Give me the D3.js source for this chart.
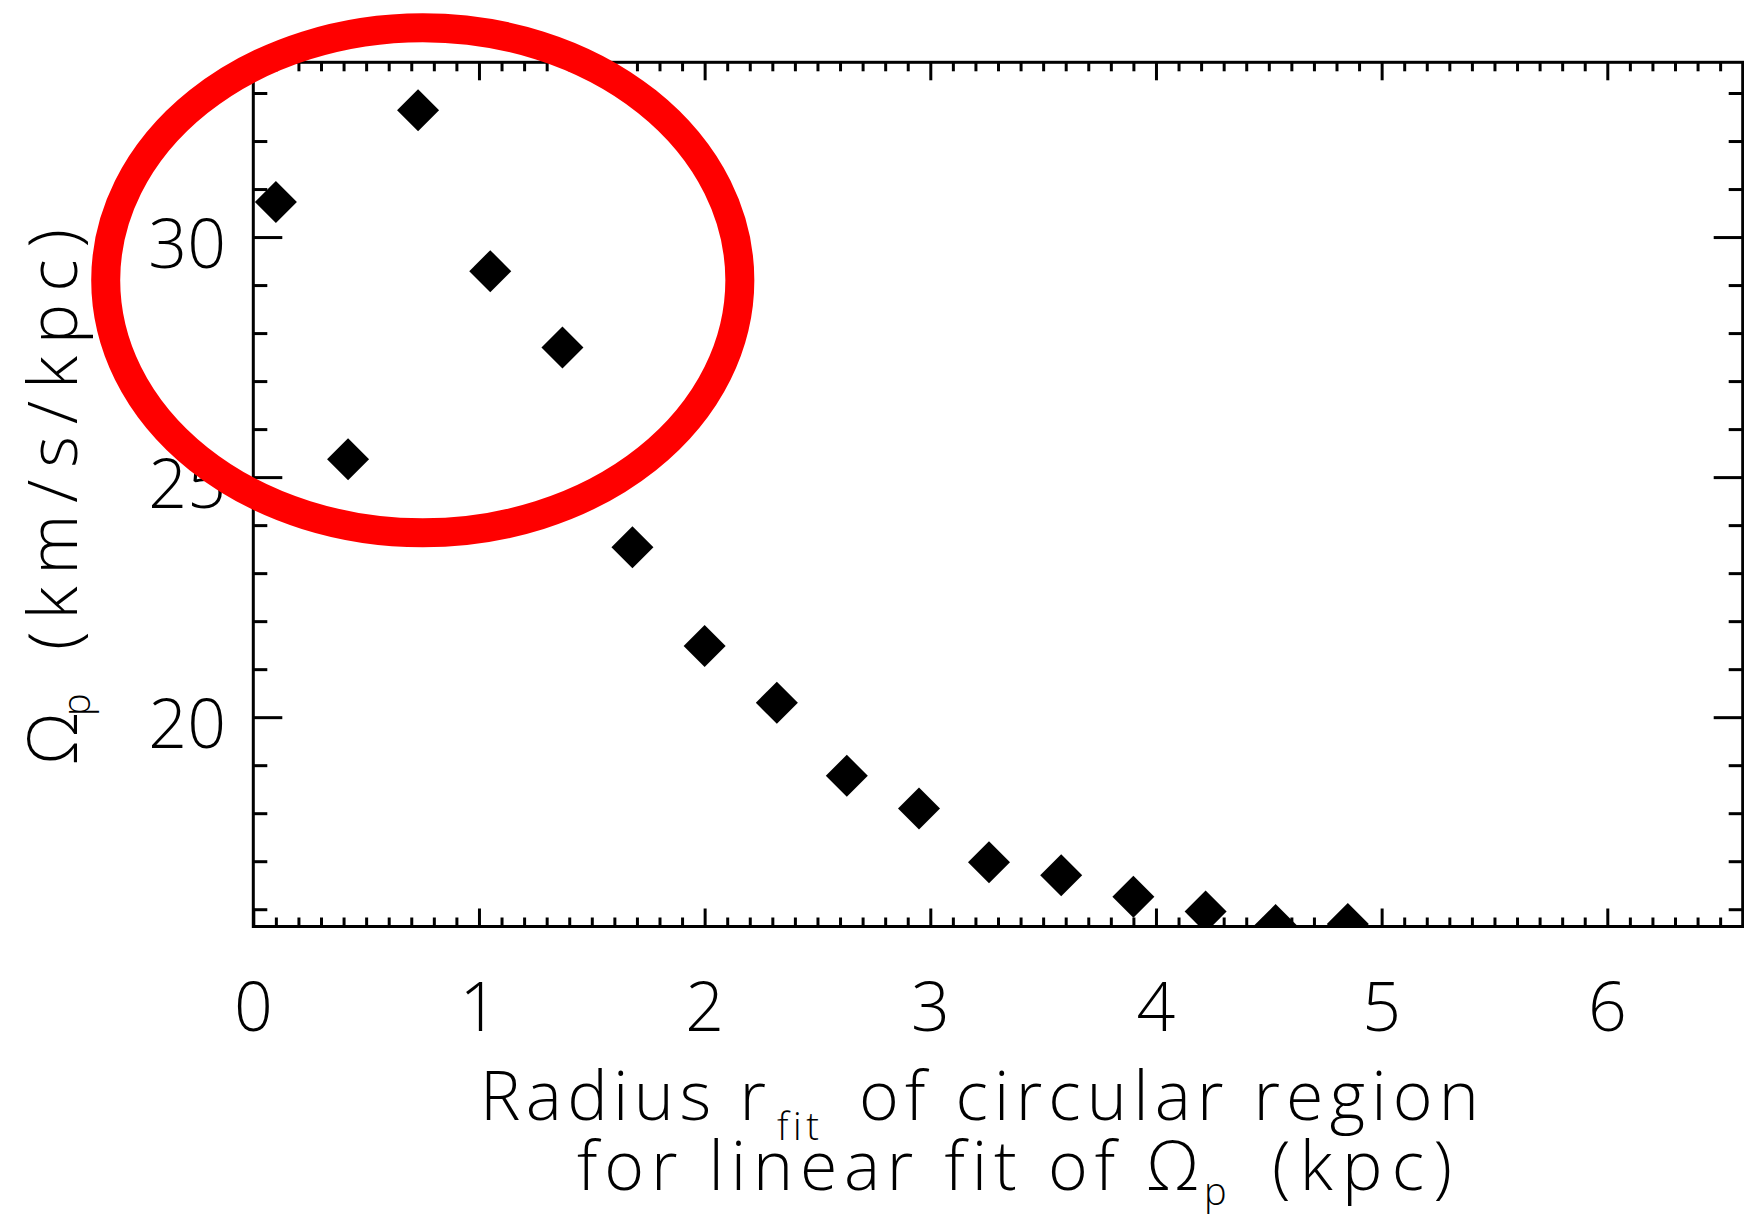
<!DOCTYPE html>
<html>
<head>
<meta charset="utf-8">
<script src="https://cdn.jsdelivr.net/npm/d3@7"></script>
<style>
  html, body { margin: 0; padding: 0; background: #fff; }
  svg { display: block; }
  text { font-family: "Open Sans", Lato, sans-serif; font-weight: 300; fill: #000; font-variant-ligatures: none; }
</style>
</head>
<body>
<svg id="chart" width="1744" height="1216"></svg>
<script>
// Radius of the circular fitting region (kpc) and the fitted pattern speed (km/s/kpc)
const radiusFit = [0.10, 0.42, 0.73, 1.05, 1.37, 1.68, 2.00, 2.32, 2.63, 2.95, 3.26, 3.58, 3.90, 4.22, 4.53, 4.85];
const omegaP    = [30.73, 25.37, 32.64, 29.29, 27.70, 23.54, 21.48, 20.30, 18.78, 18.10, 16.98, 16.71, 16.26, 15.95, 15.67, 15.69];

const xMajorTicks = [0, 1, 2, 3, 4, 5, 6];
const xTickLabels = ["0", "1", "2", "3", "4", "5", "6"];
const yMajorTicks = [20, 25, 30];
const yTickLabels = ["20", "25", "30"];
const xDomain = [0, 6.6];
const yDomain = [15.64, 33.64];

// Highlight ring around the inner-radius points (data units)
const ringCenter = [0.751, 29.10];
const ringRadii  = [1.405, 5.26];

const plot = { left: 253.3, right: 1742.7, top: 62.3, bottom: 926.5 };
const x = d3.scaleLinear().domain(xDomain).range([plot.left, plot.right]);
const y = d3.scaleLinear().domain(yDomain).range([plot.bottom, plot.top]);

const svg = d3.select("#chart");
const FS = 68;      // main font size
const SUB = 38;     // subscript font size

svg.append("defs").append("clipPath").attr("id", "plotClip")
  .append("rect")
  .attr("x", plot.left).attr("y", plot.top)
  .attr("width", plot.right - plot.left).attr("height", plot.bottom - plot.top);

// Diamond markers
svg.append("g").attr("clip-path", "url(#plotClip)")
  .selectAll("path")
  .data(radiusFit.map((r, i) => [r, omegaP[i]]))
  .join("path")
  .attr("d", d3.symbol(d3.symbolSquare, 882))
  .attr("transform", d => `translate(${x(d[0])},${y(d[1])}) rotate(45)`)
  .attr("fill", "#000");

// Minor tick positions
const xMinor = d3.range(1, 66).map(i => i / 10).filter(v => Math.abs(v - Math.round(v)) > 1e-6);
const yMinor = d3.range(16, 34).filter(v => !yMajorTicks.includes(v));

function tickGroup(axis, transform, values, size) {
  svg.append("g")
    .attr("transform", transform)
    .call(axis.tickValues(values).tickSize(-size).tickFormat(""))
    .call(g => g.select(".domain").remove())
    .call(g => g.selectAll("line").attr("stroke", "#000").attr("stroke-width", 3));
}
tickGroup(d3.axisBottom(x), `translate(0,${plot.bottom})`, xMajorTicks, 18);
tickGroup(d3.axisBottom(x), `translate(0,${plot.bottom})`, xMinor, 9);
tickGroup(d3.axisTop(x), `translate(0,${plot.top})`, xMajorTicks, 18);
tickGroup(d3.axisTop(x), `translate(0,${plot.top})`, xMinor, 9);
tickGroup(d3.axisLeft(y), `translate(${plot.left},0)`, yMajorTicks, 29);
tickGroup(d3.axisLeft(y), `translate(${plot.left},0)`, yMinor, 14);
tickGroup(d3.axisRight(y), `translate(${plot.right},0)`, yMajorTicks, 29);
tickGroup(d3.axisRight(y), `translate(${plot.right},0)`, yMinor, 14);

// Frame
svg.append("rect")
  .attr("x", plot.left).attr("y", plot.top)
  .attr("width", plot.right - plot.left).attr("height", plot.bottom - plot.top)
  .attr("fill", "none").attr("stroke", "#000").attr("stroke-width", 3);

// Tick labels
svg.append("g").selectAll("text").data(xMajorTicks).join("text")
  .attr("x", d => x(d)).attr("y", 1031)
  .attr("text-anchor", "middle").attr("font-size", FS)
  .text((d, i) => xTickLabels[i]);

svg.append("g").selectAll("text").data(yMajorTicks).join("text")
  .attr("x", 226).attr("y", d => y(d) + 31)
  .attr("text-anchor", "end").attr("font-size", FS)
  .text((d, i) => yTickLabels[i]);

// Text piece helper: optional fitted length
function piece(parent, str, px, py, size, len) {
  const t = parent.append("text")
    .attr("x", px).attr("y", py)
    .attr("font-size", size)
    .text(str);
  if (len) t.attr("textLength", len).attr("lengthAdjust", "spacing");
  return t;
}

// X axis title (two lines)
piece(svg, "Radius r", 480, 1120, FS, 286);
piece(svg, "fit", 777, 1140, SUB, 42);
piece(svg, "of circular region", 859, 1120, FS, 620);
piece(svg, "for linear fit of \u03A9", 577, 1190, FS, 622);
piece(svg, "p", 1204, 1205, SUB);
piece(svg, "(kpc)", 1272, 1190, FS, 180);

// Y axis title, rotated to read bottom-to-top
const yt = svg.append("g").attr("transform", "translate(77,0) rotate(-90)");
piece(yt, "\u03A9", -765, 0, FS);
piece(yt, "p", -716, 13, SUB);
piece(yt, "(km/s/kpc)", -650, 0, FS, 421);

// Red highlight ring
svg.append("ellipse")
  .attr("cx", x(ringCenter[0]))
  .attr("cy", y(ringCenter[1]))
  .attr("rx", x(ringCenter[0] + ringRadii[0]) - x(ringCenter[0]))
  .attr("ry", y(ringCenter[1]) - y(ringCenter[1] + ringRadii[1]))
  .attr("fill", "none")
  .attr("stroke", "#ff0000")
  .attr("stroke-width", 29);
</script>
</body>
</html>
